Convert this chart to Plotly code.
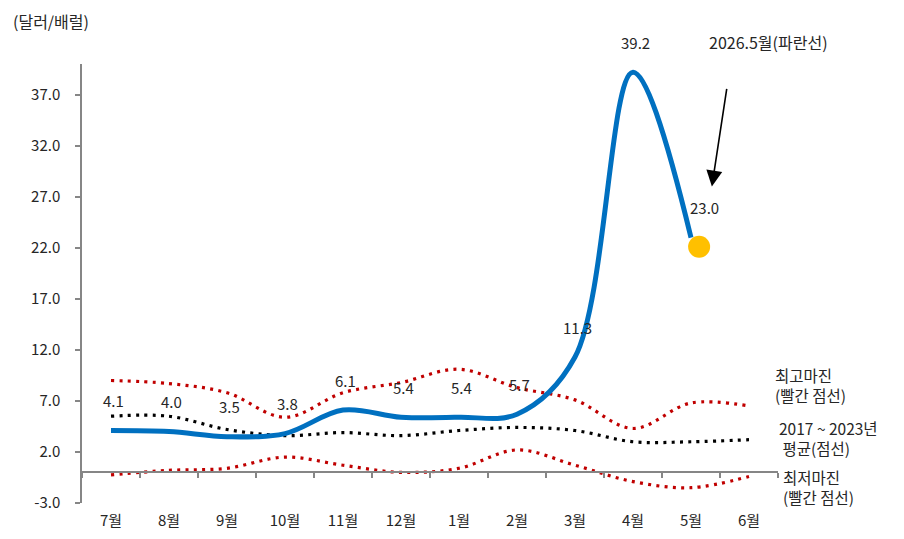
import plotly.graph_objects as go

months = ["7월", "8월", "9월", "10월", "11월", "12월", "1월", "2월", "3월", "4월", "5월", "6월"]
blue_2026 = [4.1, 4.0, 3.5, 3.8, 6.1, 5.4, 5.4, 5.7, 11.3, 39.2, 23.0]
blue_labels = ["4.1", "4.0", "3.5", "3.8", "6.1", "5.4", "5.4", "5.7", "11.3", "39.2", "23.0"]
max_margin = [9.0, 8.7, 7.8, 5.4, 7.8, 8.8, 10.1, 8.3, 7.1, 4.3, 6.8, 6.5]
avg_margin = [5.5, 5.5, 4.2, 3.6, 3.9, 3.6, 4.1, 4.4, 4.1, 3.0, 3.0, 3.2]
min_margin = [-0.25, 0.2, 0.4, 1.5, 0.7, 0.0, 0.4, 2.2, 0.7, -0.9, -1.5, -0.4]
latest_x = [10.14]
latest_y = [22.1]
y_ticks = [-3.0, 2.0, 7.0, 12.0, 17.0, 22.0, 27.0, 32.0, 37.0]

Y_MIN, Y_MAX = -3, 40
FONT = "Noto Sans CJK KR"
FS = 15
TXT = "#262626"
AX = "#868686"

xi = list(range(len(months)))

fig = go.Figure()

dot = "3px,5.3px"
fig.add_trace(go.Scatter(x=xi, y=max_margin, mode="lines",
                         line=dict(color="#C00000", width=3.2, dash=dot, shape="spline"),
                         hoverinfo="skip"))
fig.add_trace(go.Scatter(x=xi, y=min_margin, mode="lines",
                         line=dict(color="#C00000", width=3.2, dash=dot, shape="spline"),
                         hoverinfo="skip"))
fig.add_trace(go.Scatter(x=xi, y=avg_margin, mode="lines",
                         line=dict(color="#000000", width=3.2, dash=dot, shape="spline"),
                         hoverinfo="skip"))
fig.add_trace(go.Scatter(x=xi[:len(blue_2026)], y=blue_2026, mode="lines",
                         line=dict(color="#0070C0", width=5, shape="spline", smoothing=1),
                         hoverinfo="skip"))
fig.add_trace(go.Scatter(x=latest_x, y=latest_y, mode="markers",
                         marker=dict(color="#FFC000", size=22, line=dict(width=0)),
                         hoverinfo="skip"))

zero_pos = (0 - Y_MIN) / (Y_MAX - Y_MIN)

for i, (v, t) in enumerate(zip(blue_2026, blue_labels)):
    fig.add_annotation(x=i, y=v, text=t, showarrow=False, yshift=30,
                       xshift=(13 if i == len(blue_2026) - 1 else 2),
                       font=dict(family=FONT, size=FS, color=TXT))

fig.add_annotation(x=10.36, y=28.0, ax=10.62, ay=37.7, xref="x", yref="y",
                   axref="x", ayref="y", text="", showarrow=True,
                   arrowhead=2, arrowsize=2.0, arrowwidth=1.6, arrowcolor="#000000")

fig.add_annotation(xref="paper", yref="paper", x=0.9864, y=1.0, yshift=22,
                   yanchor="middle", xanchor="center",
                   text="2026.5월(파란선)", showarrow=False,
                   font=dict(family=FONT, size=16, color=TXT))
fig.add_annotation(xref="paper", yref="paper", x=-0.1020, y=1.0, yshift=43,
                   yanchor="middle", xanchor="left", text="(달러/배럴)",
                   showarrow=False, font=dict(family=FONT, size=16, color=TXT))

right_labels = [
    (0.9935, 8.57, "최고마진<br>(빨간 점선)"),
    (0.998, 3.37, "2017 ~ 2023년<br> 평균(점선)"),
    (1.004, -1.43, "최저마진<br>(빨간 점선)"),
]
for xv, yv, t in right_labels:
    fig.add_annotation(xref="paper", yref="y", x=xv, y=yv, xanchor="left",
                       yanchor="middle", text=t, showarrow=False, align="left",
                       font=dict(family=FONT, size=15.5, color=TXT))

fig.update_layout(
    width=896, height=531,
    margin=dict(l=74, r=126, t=56, b=36),
    paper_bgcolor="white", plot_bgcolor="white",
    showlegend=False,
    font=dict(family=FONT, size=FS, color=TXT),
    xaxis=dict(range=[-0.5, len(months) - 0.5], tickmode="array", tickvals=xi,
               ticktext=months, showline=False, ticks="", showgrid=False,
               zeroline=False, ticklabelstandoff=7, automargin=False,
               tickfont=dict(family=FONT, size=FS, color=TXT)),
    xaxis2=dict(range=[-0.5, len(months) - 0.5], overlaying="x", anchor="free",
                position=zero_pos, side="bottom", showline=True, linecolor=AX,
                linewidth=1.5, ticks="outside", ticklen=5, tickwidth=1.5,
                tickcolor=AX, tickmode="array", automargin=False,
                tickvals=[i + 0.5 for i in range(-1, len(months))],
                showticklabels=False, showgrid=False, zeroline=False),
    yaxis=dict(range=[Y_MIN, Y_MAX], tickmode="array", tickvals=y_ticks,
               ticktext=[f"{v:.1f}" for v in y_ticks], showline=True,
               linecolor=AX, linewidth=1.5, ticks="outside", ticklen=5,
               tickwidth=1.5, tickcolor=AX, showgrid=False, zeroline=False,
               ticklabelstandoff=12, automargin=False,
               tickfont=dict(family=FONT, size=FS, color=TXT)),
)
fig.add_trace(go.Scatter(x=[None], y=[None], xaxis="x2", showlegend=False,
                         hoverinfo="skip"))

fig.write_html("out.html")
